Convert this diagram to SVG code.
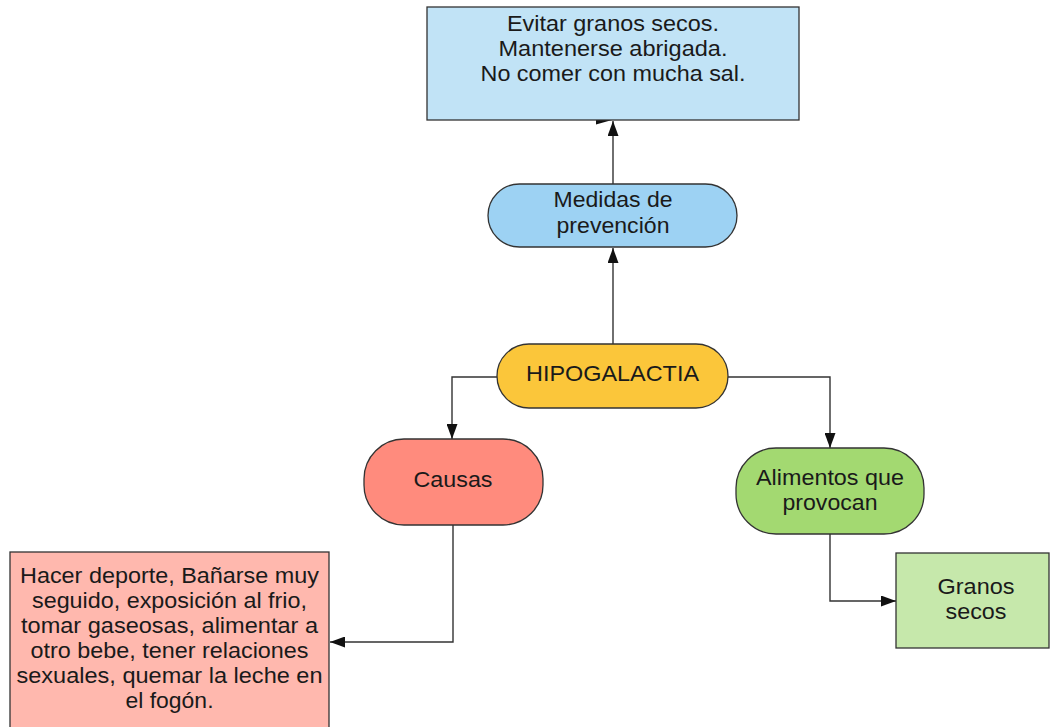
<svg xmlns="http://www.w3.org/2000/svg" width="1050" height="727" viewBox="0 0 1050 727">
  <style>
    .node { stroke: #333333; stroke-width: 1.3; }
    .lbl { font-family: "Liberation Sans", Arial, sans-serif; font-size: 21.5px; fill: #1a1a1a; text-anchor: middle; }
    .edge { fill: none; stroke: #333333; stroke-width: 1.4; }
  </style>
  <defs>
    <marker id="arrow" viewBox="0 0 15 11" refX="15" refY="5.5" markerWidth="15" markerHeight="11" markerUnits="userSpaceOnUse" orient="auto">
      <path d="M0,0 L15,5.5 L0,11 z" fill="#111111"/>
    </marker>
  </defs>
  <rect width="1050" height="727" fill="#ffffff"/>

  <!-- connectors -->
  <g id="connectors">
    <path class="edge" d="M613,184 V121" marker-end="url(#arrow)"/>
    <path d="M596,115.5 L612,120 L596,124.5 z" fill="#111111"/>
    <path class="edge" d="M613,344 V248" marker-end="url(#arrow)"/>
    <path class="edge" d="M497,377 H452 V439" marker-end="url(#arrow)"/>
    <path class="edge" d="M728,377 H830 V448" marker-end="url(#arrow)"/>
    <path class="edge" d="M453,525 V642 H330" marker-end="url(#arrow)"/>
    <path class="edge" d="M830,534 V601 H896" marker-end="url(#arrow)"/>
  </g>

  <g id="prevencion-detalle">
    <rect class="node" x="427" y="7" width="372" height="113" fill="#c1e3f6"/>
    <text class="lbl" x="613" y="31" textLength="212" lengthAdjust="spacingAndGlyphs">Evitar granos secos.</text>
    <text class="lbl" x="613" y="56" textLength="229" lengthAdjust="spacingAndGlyphs">Mantenerse abrigada.</text>
    <text class="lbl" x="613" y="81" textLength="265" lengthAdjust="spacingAndGlyphs">No comer con mucha sal.</text>
  </g>

  <g id="medidas">
    <rect class="node" x="488" y="184" width="249" height="63" rx="31.5" fill="#9dd2f3"/>
    <text class="lbl" x="613" y="207" textLength="119" lengthAdjust="spacingAndGlyphs">Medidas de</text>
    <text class="lbl" x="613" y="233" textLength="113" lengthAdjust="spacingAndGlyphs">prevención</text>
  </g>

  <g id="hipogalactia">
    <rect class="node" x="497" y="344" width="231" height="64" rx="32" fill="#fbc63a"/>
    <text class="lbl" x="612.5" y="381" textLength="173" lengthAdjust="spacingAndGlyphs">HIPOGALACTIA</text>
  </g>

  <g id="causas">
    <rect class="node" x="364" y="439" width="179" height="86" rx="40" fill="#ff8b7d"/>
    <text class="lbl" x="453" y="487" textLength="79" lengthAdjust="spacingAndGlyphs">Causas</text>
  </g>

  <g id="causas-detalle">
    <rect class="node" x="10" y="552" width="319" height="190" fill="#ffb8ae"/>
    <text class="lbl" x="169.5" y="583" textLength="299" lengthAdjust="spacingAndGlyphs">Hacer deporte, Bañarse muy</text>
    <text class="lbl" x="169.5" y="608" textLength="275" lengthAdjust="spacingAndGlyphs">seguido, exposición al frio,</text>
    <text class="lbl" x="169.5" y="633" textLength="297" lengthAdjust="spacingAndGlyphs">tomar gaseosas, alimentar a</text>
    <text class="lbl" x="169.5" y="658" textLength="278" lengthAdjust="spacingAndGlyphs">otro bebe, tener relaciones</text>
    <text class="lbl" x="169.5" y="683" textLength="306" lengthAdjust="spacingAndGlyphs">sexuales, quemar la leche en</text>
    <text class="lbl" x="169.5" y="708" textLength="88" lengthAdjust="spacingAndGlyphs">el fogón.</text>
  </g>

  <g id="alimentos">
    <rect class="node" x="736" y="448" width="188" height="86" rx="40" fill="#a3d971"/>
    <text class="lbl" x="830" y="485" textLength="148" lengthAdjust="spacingAndGlyphs">Alimentos que</text>
    <text class="lbl" x="830" y="510" textLength="95" lengthAdjust="spacingAndGlyphs">provocan</text>
  </g>

  <g id="granos">
    <rect class="node" x="896" y="553" width="153" height="95" fill="#c6e8ab"/>
    <text class="lbl" x="976" y="594" textLength="77" lengthAdjust="spacingAndGlyphs">Granos</text>
    <text class="lbl" x="976" y="619" textLength="61" lengthAdjust="spacingAndGlyphs">secos</text>
  </g>
</svg>
